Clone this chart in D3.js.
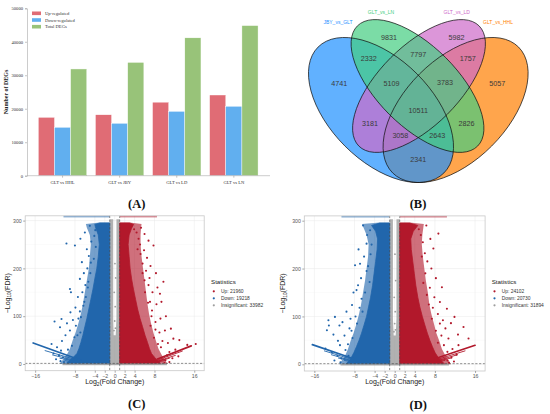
<!DOCTYPE html>
<html><head><meta charset="utf-8">
<script src="https://cdn.jsdelivr.net/npm/d3@7"></script>
<style>body{margin:0;background:#fff}svg{display:block}</style>
</head><body>
<svg id="fig" width="550" height="414"></svg>
<script>
// ---------------- Panel A data ----------------
const barCategories = ["GLT vs HHL", "GLT vs JBY", "GLT vs LD", "GLT vs LN"];
const barSeries = ["Up-regulated", "Down-regulated", "Total DEGs"];
const upRegulated = [17430, 18200, 21960, 24102];
const downRegulated = [14450, 15640, 19218, 20730];
const totalDEGs = [31880, 33840, 41178, 44832];
const barYTicks = [0, 10000, 20000, 30000, 40000, 50000];
const barColors = ["#E06C75", "#61AFEF", "#98C379"];

// ---------------- Panel B data ----------------
const vennSets = ["JBY_vs_GLT", "GLT_vs_LN", "GLT_vs_LD", "GLT_vs_HHL"];
const vennColors = ["#1E90FF", "#43CD80", "#CD69C9", "#FF7F00"];
const vennRegionKeys = ["B","G","P","O","BG","GP","PO","BGP","GPO","BGPO","BP","GO","BPO","BGO","BO"];
const vennCounts =     [4741,9831,5982,5057,2332,7797,1757,5109,3783,10511,3181,2826,3058,2643,2341];

// ---------------- Panel C data (GLT vs LD) ----------------
const cLegend = ["Up: 21960", "Down: 19218", "Insignificant: 33982"];
const cBlueCore = [[-1,0],[-9.8,0],[-9.6,3],[-9,8],[-8.3,14],[-7.6,22],[-7.2,32],[-6.8,45],[-6.4,60],[-6,78],[-5.6,95],[-5.2,115],[-4.8,135],[-4.4,155],[-4.0,178],[-3.6,200],[-3.3,225],[-3.1,250],[-3.3,270],[-3.8,284],[-4.0,292],[-3,295],[-1,295]];
const cBlueHalo = [[-1,0],[-11,0],[-10.8,4],[-10.3,10],[-9.6,20],[-9,32],[-8.5,48],[-7.9,65],[-7.3,85],[-6.8,105],[-6.4,125],[-6,150],[-5.6,175],[-5.2,200],[-5,225],[-4.8,250],[-5,270],[-5.6,285],[-5.8,293],[-3,296],[-1,296]];
const cRedCore = [[1,0],[9.3,0],[9.1,3],[8.6,8],[8.0,14],[7.4,22],[7,32],[6.6,45],[6.1,60],[5.6,78],[5.1,95],[4.6,115],[4.2,135],[3.8,155],[3.4,178],[3.1,200],[2.9,225],[2.7,250],[2.9,270],[3.4,284],[3.8,292],[3,295],[1,295]];
const cRedHalo = [[1,0],[10.6,0],[10.4,4],[10,10],[9.4,20],[8.8,32],[8.3,48],[7.8,65],[7.3,85],[6.9,105],[6.6,125],[6.3,150],[6,175],[5.7,200],[5.4,225],[5.2,250],[5.2,270],[5.3,285],[5.4,293],[3,296],[1,296]];
const cBluePts = [[-9.7,252],[-8.0,248],[-6.9,262],[-6.0,275],[-5.0,289],[-5.6,240],[-5.2,226],[-6.6,213],[-7.0,178],[-6.2,190],[-5.5,200],[-4.8,212],[-9.0,157],[-8.8,150],[-7.4,140],[-6.5,150],[-5.9,165],[-5.3,172],[-7.9,118],[-7.0,110],[-6.3,122],[-12.1,89],[-10.7,94],[-11.0,77],[-9.6,85],[-9.0,70],[-8.4,92],[-7.8,80],[-7.3,95],[-6.9,66],[-8.1,56],[-9.9,60],[-10.6,48],[-12.7,42],[-11.6,35],[-10.8,28],[-12.3,22],[-11.2,18],[-10.4,14],[-11.8,10],[-10.9,6],[-10.2,4],[-4.7,256],[-4.1,268],[-3.8,245],[-5.8,140],[-6.8,98],[-7.5,60],[-8.6,38],[-9.4,30],[-4.2,220],[-4.9,190],[-5.4,160],[-6.1,130],[-8.9,108],[-3.9,280]];
const cRedPts = [[9.8,172],[9.1,147],[7.8,248],[6.8,258],[6.0,272],[5.3,285],[5.9,238],[6.5,222],[7.2,205],[8.3,190],[7.0,180],[6.3,195],[5.6,210],[8.6,160],[7.6,150],[6.8,165],[6.0,175],[9.4,130],[8.4,125],[7.5,112],[6.7,128],[10.3,100],[9.2,95],[8.2,88],[7.4,100],[11.3,74],[10.1,70],[9.0,66],[8.2,72],[11.8,53],[13.0,50],[14.6,40],[16.3,42],[10.7,44],[9.6,48],[8.7,42],[12.2,30],[11.0,25],[10.5,18],[12.8,16],[11.6,12],[10.2,8],[11.0,4],[10.0,2],[4.8,262],[4.4,275],[5.1,250],[5.6,190],[6.1,150],[7.1,130],[7.9,55],[9.3,35],[5.2,230],[4.6,240],[3.9,282],[7.2,80]];
const cGrayCore = [[-1,0],[1,0],[1,303],[0.35,303],[0.35,95],[0.2,60],[-0.2,60],[-0.3,95],[-0.3,303],[-1,303]];
const cGrayPts = [[0.1,120],[-0.1,150],[0.2,180],[0.0,90],[0.15,75],[-0.15,70],[0.05,210]];
const cBlueRays = [[-16.4,44,-6.8,8],[-14,28,-6.5,5],[-12.5,19,-6.5,3.5],[-11,12,-6,2.5],[-10,7,-6,1.5]];
const cRedRays = [[15.4,38,8.6,10.5],[13.6,27,8,6],[12.2,18,8,4],[11,12,7.5,2.5],[10,7,7,1.5]];
const cTopBlue = [-10.3, -1];
const cTopRed = [1.07, 8.5];
const cBand = [-10.5, 10.5];

// ---------------- Panel D data (GLT vs LN) ----------------
const dLegend = ["Up: 24102", "Down: 20730", "Insignificant: 31894"];
const dBlueCore = [[-1,0],[-9.8,0],[-9.5,3],[-9,8],[-8.6,15],[-8.1,25],[-7.6,37],[-7.1,50],[-6.6,65],[-6.1,82],[-5.6,100],[-5.2,120],[-4.8,140],[-4.4,165],[-4.1,190],[-3.8,215],[-3.5,240],[-3.4,262],[-3.8,278],[-4.6,290],[-3,295],[-1,295]];
const dBlueHalo = [[-1,0],[-11,0],[-10.8,4],[-10.4,10],[-9.8,20],[-9.3,32],[-8.8,48],[-8.2,65],[-7.6,85],[-7.1,105],[-6.7,125],[-6.3,150],[-5.9,175],[-5.6,200],[-5.3,225],[-5.2,250],[-5.6,270],[-6.2,285],[-6.5,293],[-3,296],[-1,296]];
const dRedCore = [[1,0],[10,0],[9.7,3],[9.2,8],[8.6,15],[8.0,25],[7.5,37],[7.0,50],[6.5,65],[6.0,82],[5.5,100],[5.0,120],[4.6,140],[4.2,165],[3.9,190],[3.6,215],[3.3,240],[3.2,262],[3.7,278],[4.6,290],[3,295],[1,295]];
const dRedHalo = [[1,0],[11.2,0],[11,4],[10.6,10],[10,20],[9.4,32],[8.9,48],[8.3,65],[7.8,85],[7.3,105],[6.9,125],[6.6,150],[6.2,175],[5.9,200],[5.6,225],[5.4,250],[5.5,270],[5.7,285],[5.8,293],[3,296],[1,296]];
const dBluePts = [[-13.2,92],[-13.1,81],[-11.9,99],[-13.5,71],[-11.0,81],[-10.0,60],[-11.3,49],[-9.3,42],[-7.9,207],[-6.9,210],[-7.6,155],[-6.3,290],[-5.6,252],[-6.6,137],[-8.5,124],[-5.0,172],[-9.6,110],[-8.8,95],[-10.4,88],[-12.2,62],[-8.6,70],[-9.8,30],[-12.5,25],[-11.4,18],[-10.6,12],[-12.0,8],[-10.8,4],[-7.2,240],[-6.1,225],[-5.6,195],[-6.7,180],[-7.3,165],[-8.2,150],[-7.0,118],[-7.8,100],[-9.0,75],[-5.5,270],[-4.9,280],[-5.9,150],[-6.4,110],[-7.5,85],[-8.4,55],[-4.8,230],[-4.6,250],[-5.3,205],[-10.9,40],[-9.2,18],[-13.8,33]];
const dRedPts = [[13.7,78],[11.9,99],[9.4,161],[8.7,273],[10.4,116],[7.7,242],[6.3,290],[10.7,54],[12.7,40],[14.7,54],[11.2,86],[9.6,92],[8.6,105],[9.0,130],[7.9,140],[7.0,160],[8.2,180],[7.3,200],[6.5,215],[6.0,232],[5.6,255],[5.2,270],[7.1,262],[6.1,190],[5.7,170],[6.8,125],[7.4,95],[8.2,70],[9.3,60],[11.5,32],[10.5,26],[12.3,20],[11.3,14],[10.5,8],[11.8,6],[10.8,3],[9.8,40],[8.6,45],[12.6,62],[10.1,75],[4.8,282],[5.4,225],[6.4,145],[7.6,118],[9.0,85]];
const dGrayCore = [[-1,0],[1,0],[1,303],[0.35,303],[0.35,95],[0.2,60],[-0.2,60],[-0.35,95],[-0.35,303],[-1,303]];
const dGrayPts = [[0.1,110],[-0.1,140],[0.2,175],[0.0,85],[0.15,72],[-0.15,68],[0.05,230]];
const dBlueRays = [[-16.4,41,-8.2,11.7],[-14,28,-7.5,7],[-12.6,20,-7.5,4.5],[-11.2,13,-7,3],[-10,8,-6.5,1.5]];
const dRedRays = [[16,39.7,8,11.7],[14,28,7.5,7],[12.5,20,7.5,4.5],[11.2,13,7,3],[10,8,6.5,1.5]];
const dTopBlue = [-10.6, -1.1];
const dTopRed = [1.06, 10.4];
const dBand = [-10.8, 10.8];

const volXTicks = [-16, -8, -4, -2, 0, 2, 4, 8, 16];
const volYTicks = [0, 100, 200, 300];
const volColors = { up: "#B2182B", down: "#2166AC", ns: "#9E9E9E" };

// ================= Drawing =================
const svg = d3.select("#fig");
svg.append("rect").attr("width", 550).attr("height", 414).attr("fill", "#fff");
const SERIF = "'Liberation Serif','Times New Roman',serif";
const SANS = "'Liberation Sans',Arial,Helvetica,sans-serif";

// ---------- Panel A ----------
(function () {
  const g = svg.append("g");
  const x0 = d3.scaleBand().domain(barCategories).range([34, 262.4]).paddingInner(0.152).paddingOuter(0.076);
  const x1 = d3.scaleBand().domain(barSeries).range([0, x0.bandwidth()]);
  const y = d3.scaleLinear().domain([0, 50000]).range([175.7, 8.3]);
  const rows = barCategories.map((c, i) => ({ c, vals: [upRegulated[i], downRegulated[i], totalDEGs[i]] }));
  const gg = g.selectAll("g.grp").data(rows).enter().append("g")
    .attr("transform", d => `translate(${x0(d.c)},0)`);
  gg.selectAll("rect").data(d => d.vals.map((v, k) => ({ s: barSeries[k], v, k }))).enter().append("rect")
    .attr("x", d => x1(d.s)).attr("width", x1.bandwidth())
    .attr("y", d => y(d.v)).attr("height", d => y(0) - y(d.v))
    .attr("fill", d => barColors[d.k]).attr("stroke", "#fff").attr("stroke-width", 0.4);

  const ya = g.append("g").attr("transform", "translate(27,0)")
    .call(d3.axisLeft(y).tickValues(barYTicks).tickSize(2).tickPadding(2).tickFormat(d3.format("d")));
  ya.select(".domain").attr("stroke", "#aaa").attr("stroke-width", 0.6);
  ya.selectAll(".tick line").attr("stroke", "#888").attr("stroke-width", 0.5);
  ya.selectAll("text").attr("font-family", SERIF).attr("font-size", 4.6).attr("fill", "#333");

  const xa = g.append("g").attr("transform", "translate(0,175.7)")
    .call(d3.axisBottom(x0).tickSize(2).tickPadding(3));
  xa.select(".domain").attr("d", "M27,0H270").attr("stroke", "#aaa").attr("stroke-width", 0.6);
  xa.selectAll(".tick line").attr("stroke", "#888").attr("stroke-width", 0.5);
  xa.selectAll("text").attr("font-family", SERIF).attr("font-size", 4.6).attr("fill", "#333");

  g.append("text").attr("transform", "translate(7.5,92) rotate(-90)").attr("text-anchor", "middle")
    .attr("font-family", SERIF).attr("font-weight", "bold").attr("font-size", 6).attr("fill", "#222")
    .text("Number of DEGs");

  const lg = g.selectAll("g.leg").data(barSeries).enter().append("g")
    .attr("transform", (d, i) => `translate(32,${13.3 + i * 6.7})`);
  lg.append("rect").attr("x", 0).attr("y", -1.8).attr("width", 9).attr("height", 3.6).attr("fill", (d, i) => barColors[i]);
  lg.append("text").attr("x", 13).attr("y", 1.6).attr("font-family", SERIF).attr("font-size", 4.6).attr("fill", "#333").text(d => d);
})();

// ---------- Panel B ----------
(function () {
  const g = svg.append("g");
  const shapes = [
    { cx: 381, cy: 110, rx: 89, ry: 51, rot: 45 },
    { cx: 417.5, cy: 86, rx: 85, ry: 40, rot: 45 },
    { cx: 419, cy: 86, rx: 85, ry: 40, rot: -45 },
    { cx: 455.6, cy: 110, rx: 89, ry: 51, rot: -45 }
  ];
  const keys = ["B", "G", "P", "O"];
  const paintOrder = [3, 0, 2, 1];
  const ell = sel => sel.attr("cx", 0).attr("cy", 0).attr("rx", d => d.s.rx).attr("ry", d => d.s.ry)
    .attr("transform", d => `translate(${d.s.cx},${d.s.cy}) rotate(${d.s.rot})`);
  const ordered = paintOrder.map(i => ({ s: shapes[i], i }));
  g.selectAll("ellipse.fill").data(ordered).enter().append("ellipse").call(ell)
    .attr("fill", d => vennColors[d.i]).attr("fill-opacity", 0.7).attr("stroke", "none");
  g.selectAll("ellipse.edge").data(ordered).enter().append("ellipse").call(ell)
    .attr("fill", "none").attr("stroke", "#111").attr("stroke-width", 0.7);

  function inside(s, px, py) {
    const a = s.rot * Math.PI / 180, dx = px - s.cx, dy = py - s.cy;
    const u = dx * Math.cos(a) + dy * Math.sin(a), v = -dx * Math.sin(a) + dy * Math.cos(a);
    return (u * u) / (s.rx * s.rx) + (v * v) / (s.ry * s.ry) <= 1;
  }
  const acc = {};
  for (let px = 290; px <= 550; px += 1) for (let py = 0; py <= 200; py += 1) {
    let k = "";
    shapes.forEach((s, i) => { if (inside(s, px, py)) k += keys[i]; });
    if (!k) continue;
    (acc[k] = acc[k] || { x: 0, y: 0, n: 0 });
    acc[k].x += px; acc[k].y += py; acc[k].n++;
  }
  const nudge = { B: [-2, -13], O: [2, -13], G: [5, 3], P: [4, 3], BPO: [4, 0], BGO: [-3, 0], BO: [0, -2], BGPO: [0, 2] };
  const labels = vennRegionKeys.map((k, i) => {
    const d = nudge[k] || [0, 0];
    return { k, n: vennCounts[i], x: acc[k].x / acc[k].n + d[0], y: acc[k].y / acc[k].n + d[1] };
  });
  g.selectAll("text.cnt").data(labels).enter().append("text")
    .attr("x", d => d.x).attr("y", d => d.y).attr("text-anchor", "middle").attr("dominant-baseline", "central")
    .attr("font-family", SANS).attr("font-size", 7.2).attr("fill", "#3a3a3a").text(d => d.n);

  const setLabelAnchors = [[338, 21.7], [381, 11.7], [456.7, 11.7], [498, 21.7]];
  g.selectAll("text.set").data(vennSets).enter().append("text")
    .attr("x", (d, i) => setLabelAnchors[i][0]).attr("y", (d, i) => setLabelAnchors[i][1])
    .attr("text-anchor", "middle").attr("dominant-baseline", "central")
    .attr("font-family", SANS).attr("font-size", 5).attr("fill", (d, i) => vennColors[i]).text(d => d);
})();

// ---------- Volcano panels ----------
function volcano(o) {
  const g = svg.append("g");
  const x = d3.scaleLinear().domain([-18, 18]).range([o.x0, o.x1]);
  const y = d3.scaleLinear().domain([-14, 310]).range([o.y1, o.y0]);
  g.append("rect").attr("x", o.x0).attr("y", o.y0).attr("width", o.x1 - o.x0).attr("height", o.y1 - o.y0).attr("fill", "#fff");
  const minorY = [50, 150, 250];
  g.selectAll("line.gym").data(minorY).enter().append("line")
    .attr("x1", o.x0).attr("x2", o.x1).attr("y1", d => y(d)).attr("y2", d => y(d)).attr("stroke", "#f2f2f2").attr("stroke-width", 0.3);
  g.selectAll("line.gy").data(volYTicks).enter().append("line")
    .attr("x1", o.x0).attr("x2", o.x1).attr("y1", d => y(d)).attr("y2", d => y(d)).attr("stroke", "#e8e8e8").attr("stroke-width", 0.5);
  g.selectAll("line.gx").data(volXTicks).enter().append("line")
    .attr("y1", o.y0).attr("y2", o.y1).attr("x1", d => x(d)).attr("x2", d => x(d)).attr("stroke", "#e8e8e8").attr("stroke-width", 0.5);

  const area = d3.line().x(d => x(d[0])).y(d => y(d[1]));
  g.append("path").attr("d", area(o.grayCore) + "Z").attr("fill", volColors.ns).attr("fill-opacity", 0.8);
  g.append("path").attr("d", area(o.blueHalo) + "Z").attr("fill", volColors.down).attr("fill-opacity", 0.62);
  g.append("path").attr("d", area(o.redHalo) + "Z").attr("fill", volColors.up).attr("fill-opacity", 0.62);
  g.append("path").attr("d", area(o.blueCore) + "Z").attr("fill", volColors.down).attr("stroke", volColors.down).attr("stroke-width", 0.8);
  g.append("path").attr("d", area(o.redCore) + "Z").attr("fill", volColors.up).attr("stroke", volColors.up).attr("stroke-width", 0.8);

  const rays = (arr, col) => g.selectAll(null).data(arr).enter().append("line")
    .attr("x1", d => x(d[0])).attr("y1", d => y(d[1])).attr("x2", d => x(d[2])).attr("y2", d => y(d[3]))
    .attr("stroke", col).attr("stroke-width", (d, i) => i === 0 ? 1.7 : 0.9).attr("stroke-linecap", "round");
  rays(o.blueRays, volColors.down);
  rays(o.redRays, volColors.up);

  const pts = (arr, col, r) => g.selectAll(null).data(arr).enter().append("circle")
    .attr("cx", d => x(d[0])).attr("cy", d => y(d[1])).attr("r", r).attr("fill", col);
  pts(o.bluePts, volColors.down, 1.05);
  pts(o.redPts, volColors.up, 1.05);
  pts(o.grayPts, volColors.ns, 0.9);

  g.append("rect").attr("x", x(o.band[0])).attr("width", x(o.band[1]) - x(o.band[0]))
    .attr("y", y(1.3)).attr("height", y(-2.5) - y(1.3)).attr("fill", volColors.ns).attr("fill-opacity", 0.9);

  g.append("rect").attr("x", x(o.topBlue[0])).attr("width", x(o.topBlue[1]) - x(o.topBlue[0]))
    .attr("y", y(310)).attr("height", 1.6).attr("fill", volColors.down).attr("fill-opacity", 0.55);
  g.append("rect").attr("x", x(o.topRed[0])).attr("width", x(o.topRed[1]) - x(o.topRed[0]))
    .attr("y", y(310)).attr("height", 1.6).attr("fill", volColors.up).attr("fill-opacity", 0.55);

  [-1, 1].forEach(v => g.append("line").attr("x1", x(v)).attr("x2", x(v)).attr("y1", o.y0).attr("y2", o.y1)
    .attr("stroke", "#444").attr("stroke-width", 0.6).attr("stroke-dasharray", "2.2,1.6"));
  g.append("line").attr("x1", o.x0).attr("x2", o.x1).attr("y1", y(1.3)).attr("y2", y(1.3))
    .attr("stroke", "#444").attr("stroke-width", 0.6).attr("stroke-dasharray", "2.2,1.6");

  g.append("rect").attr("x", o.x0).attr("y", o.y0).attr("width", o.x1 - o.x0).attr("height", o.y1 - o.y0)
    .attr("fill", "none").attr("stroke", "#c8c8c8").attr("stroke-width", 0.8);

  const ya = g.append("g").attr("transform", `translate(${o.x0},0)`)
    .call(d3.axisLeft(y).tickValues(volYTicks).tickSize(2).tickPadding(1.5));
  ya.select(".domain").remove();
  ya.selectAll(".tick line").attr("stroke", "#555").attr("stroke-width", 0.5);
  ya.selectAll("text").attr("font-family", SANS).attr("font-size", 5.2).attr("fill", "#555");
  const xa = g.append("g").attr("transform", `translate(0,${o.y1})`)
    .call(d3.axisBottom(x).tickValues(volXTicks).tickSize(2).tickPadding(1.5).tickFormat(d => d < 0 ? "\u2212" + (-d) : d));
  xa.select(".domain").remove();
  xa.selectAll(".tick line").attr("stroke", "#555").attr("stroke-width", 0.5);
  xa.selectAll("text").attr("font-family", SANS).attr("font-size", 5.2).attr("fill", "#555");

  const xt = g.append("text").attr("x", (o.x0 + o.x1) / 2).attr("y", 384.3).attr("text-anchor", "middle")
    .attr("font-family", SANS).attr("font-size", 7).attr("fill", "#222");
  xt.append("tspan").text("Log");
  xt.append("tspan").attr("font-size", 4.8).attr("dy", 1.6).text("2");
  xt.append("tspan").attr("dy", -1.6).text("(Fold Change)");

  const yt = g.append("text").attr("transform", `translate(${o.ytX},${(o.y0 + o.y1) / 2}) rotate(-90)`).attr("text-anchor", "middle")
    .attr("font-family", SANS).attr("font-size", 7).attr("fill", "#222");
  yt.append("tspan").text("\u2212Log");
  yt.append("tspan").attr("font-size", 4.8).attr("dy", 1.6).text("10");
  yt.append("tspan").attr("dy", -1.6).text("(FDR)");

  const lg = g.append("g").attr("transform", `translate(${o.legX},0)`);
  lg.append("text").attr("x", 0).attr("y", 283.8).attr("font-family", SANS).attr("font-size", 6.2).attr("fill", "#222").text("Statistics");
  const legCols = [volColors.up, volColors.down, volColors.ns];
  const it = lg.selectAll("g.it").data(o.legend).enter().append("g")
    .attr("transform", (d, i) => `translate(0,${291.3 + i * 7})`);
  it.append("circle").attr("cx", 2.8).attr("cy", 0).attr("r", 1.1).attr("fill", (d, i) => legCols[i]);
  it.append("text").attr("x", 10).attr("y", 1.7).attr("font-family", SANS).attr("font-size", 4.9).attr("fill", "#333").text(d => d);
}

volcano({ x0: 25.2, x1: 204.2, y0: 215.8, y1: 370.7, ytX: 9.5, legX: 211,
  blueCore: cBlueCore, blueHalo: cBlueHalo, redCore: cRedCore, redHalo: cRedHalo, grayCore: cGrayCore,
  bluePts: cBluePts, redPts: cRedPts, grayPts: cGrayPts,
  blueRays: cBlueRays, redRays: cRedRays, topBlue: cTopBlue, topRed: cTopRed, band: cBand, legend: cLegend });
volcano({ x0: 304.3, x1: 485.1, y0: 215.9, y1: 371, ytX: 285, legX: 491.7,
  blueCore: dBlueCore, blueHalo: dBlueHalo, redCore: dRedCore, redHalo: dRedHalo, grayCore: dGrayCore,
  bluePts: dBluePts, redPts: dRedPts, grayPts: dGrayPts,
  blueRays: dBlueRays, redRays: dRedRays, topBlue: dTopBlue, topRed: dTopRed, band: dBand, legend: dLegend });

// ---------- Panel letters ----------
const panelLetters = ["(A)", "(B)", "(C)", "(D)"];
const letterAnchors = [[136.7, 207.5], [418, 207.5], [136.7, 407.5], [418.3, 408.5]];
svg.selectAll("text.letter").data(panelLetters).enter().append("text")
  .attr("x", (d, i) => letterAnchors[i][0]).attr("y", (d, i) => letterAnchors[i][1]).attr("text-anchor", "middle")
  .attr("font-family", SERIF).attr("font-weight", "bold").attr("font-size", 12.5).attr("fill", "#111").text(d => d);
</script>
</body></html>
